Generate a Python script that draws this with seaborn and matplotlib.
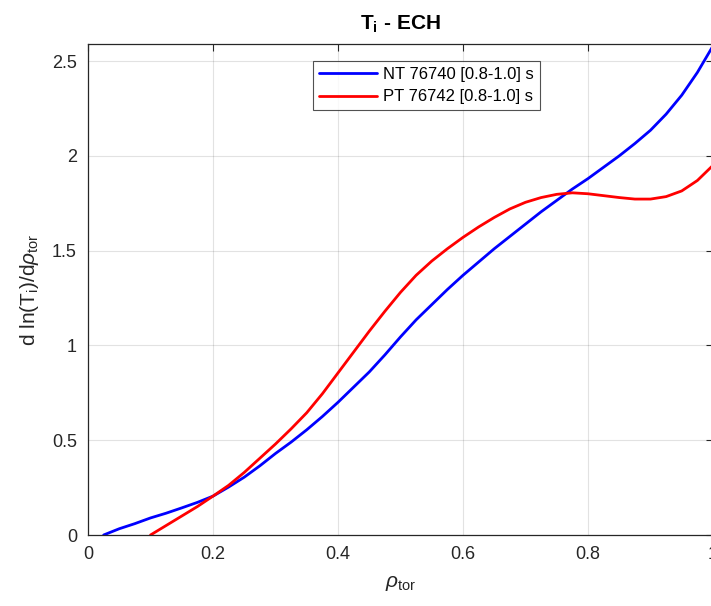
import matplotlib
matplotlib.use("Agg")
import matplotlib.pyplot as plt
import seaborn as sns
import pandas as pd

# Normalized toroidal radius and ion temperature gradient scale, per discharge
rho_nt = [0.025, 0.05, 0.075, 0.10, 0.125, 0.15, 0.175, 0.20, 0.225, 0.25,
          0.275, 0.30, 0.325, 0.35, 0.375, 0.40, 0.425, 0.45, 0.475, 0.50,
          0.525, 0.55, 0.575, 0.60, 0.625, 0.65, 0.675, 0.70, 0.725, 0.75,
          0.775, 0.80, 0.825, 0.85, 0.875, 0.90, 0.925, 0.95, 0.975, 1.00]
grad_nt = [0.000, 0.033, 0.060, 0.090, 0.115, 0.143, 0.172, 0.205, 0.253, 0.305,
           0.365, 0.430, 0.490, 0.555, 0.625, 0.700, 0.780, 0.860, 0.950, 1.045,
           1.135, 1.215, 1.295, 1.370, 1.440, 1.510, 1.575, 1.640, 1.705, 1.765,
           1.825, 1.880, 1.940, 2.000, 2.065, 2.135, 2.220, 2.320, 2.440, 2.580]

rho_pt = [0.10, 0.125, 0.15, 0.175, 0.20, 0.225, 0.25, 0.275, 0.30, 0.325,
          0.35, 0.375, 0.40, 0.425, 0.45, 0.475, 0.50, 0.525, 0.55, 0.575,
          0.60, 0.625, 0.65, 0.675, 0.70, 0.725, 0.75, 0.775, 0.80, 0.825,
          0.85, 0.875, 0.90, 0.925, 0.95, 0.975, 1.00]
grad_pt = [0.000, 0.050, 0.100, 0.150, 0.205, 0.262, 0.330, 0.405, 0.480, 0.560,
           0.645, 0.745, 0.855, 0.965, 1.075, 1.180, 1.280, 1.370, 1.445, 1.510,
           1.570, 1.625, 1.675, 1.720, 1.755, 1.780, 1.797, 1.805, 1.800, 1.790,
           1.780, 1.772, 1.772, 1.785, 1.815, 1.870, 1.950]

labels = ["NT 76740 [0.8-1.0] s", "PT 76742 [0.8-1.0] s"]
colors = ["#0000ff", "#ff0000"]

xticks = [0, 0.2, 0.4, 0.6, 0.8, 1.0]
xticklabels = ["0", "0.2", "0.4", "0.6", "0.8", "1"]
yticks = [0, 0.5, 1.0, 1.5, 2.0, 2.5]
yticklabels = ["0", "0.5", "1", "1.5", "2", "2.5"]

df = pd.concat([
    pd.DataFrame({"rho": rho_nt, "grad": grad_nt, "shot": labels[0]}),
    pd.DataFrame({"rho": rho_pt, "grad": grad_pt, "shot": labels[1]}),
], ignore_index=True)

sns.set_theme(style="white")
plt.rcParams["font.family"] = ["Liberation Sans", "DejaVu Sans"]
plt.rcParams["mathtext.fontset"] = "custom"
plt.rcParams["mathtext.rm"] = "Liberation Sans"
plt.rcParams["mathtext.it"] = "Liberation Sans:italic"
plt.rcParams["mathtext.bf"] = "Liberation Sans:bold"

fig = plt.figure(figsize=(7.11, 6.06), dpi=100)
ax = fig.add_axes([88 / 711, 71 / 606, 625 / 711, 491 / 606])

sns.lineplot(data=df, x="rho", y="grad", hue="shot", palette=colors,
             hue_order=labels, estimator=None, sort=False, linewidth=2,
             ax=ax, legend=False)

ax.set_xlim(0, 1)
ax.set_ylim(0, 2.59)
ax.set_xticks(xticks)
ax.set_xticklabels(xticklabels)
ax.set_yticks(yticks)
ax.set_yticklabels(yticklabels)

axis_color = "#262626"
ax.grid(True, color="#262626", alpha=0.13, linewidth=0.8)
ax.set_axisbelow(True)
for s in ax.spines.values():
    s.set_color(axis_color)
    s.set_linewidth(0.9)
    s.set_visible(True)
ax.tick_params(direction="in", length=5, width=0.8, color=axis_color,
               labelcolor=axis_color, labelsize=13, top=True, right=True,
               pad=8)

ax.set_title(r"T$_\mathregular{i}$ - ECH", fontsize=15, fontweight="bold",
             color="black", pad=10)
ax.set_xlabel(r"$\rho_{\mathregular{tor}}$", fontsize=15, color=axis_color,
              labelpad=8)
ax.set_ylabel(r"d ln(T$_\mathregular{i}$)/d$\rho_{\mathregular{tor}}$",
              fontsize=15, color=axis_color, labelpad=8)

handles = [plt.Line2D([], [], color=c, linewidth=2) for c in colors]
leg = ax.legend(handles, labels, loc="upper left",
                bbox_to_anchor=(225 / 625, 1 - 17 / 491), fontsize=12,
                frameon=True, fancybox=False, handlelength=3.5,
                borderpad=0.35, labelspacing=0.45, handletextpad=0.35,
                borderaxespad=0)
leg.get_frame().set_edgecolor(axis_color)
leg.get_frame().set_linewidth(0.8)
for t in leg.get_texts():
    t.set_color("black")

fig.savefig("out.png", dpi=100)
